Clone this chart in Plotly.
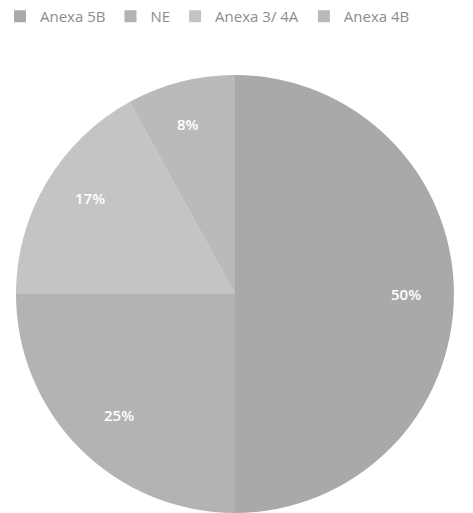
import math
import plotly.graph_objects as go

labels = ["Anexa 5B", "NE", "Anexa 3/ 4A", "Anexa 4B"]
values = [50, 25, 17, 8]
colors = ["#a9a9a9", "#b3b3b3", "#c4c4c4", "#bababa"]

W, H = 473, 513
dom_x = [16 / W, 454 / W]
dom_y = [0, 438 / H]

fig = go.Figure(go.Pie(
    labels=labels,
    values=values,
    sort=False,
    direction="clockwise",
    rotation=0,
    marker=dict(colors=colors, line=dict(width=0)),
    textinfo="none",
    domain=dict(x=dom_x, y=dom_y),
    hoverinfo="skip",
))

# percentage labels placed near the rim (best-fit style), derived from values
total = sum(values)
cx = (dom_x[0] + dom_x[1]) / 2 * W
cy = (dom_y[0] + dom_y[1]) / 2 * H
R = min((dom_x[1] - dom_x[0]) * W, (dom_y[1] - dom_y[0]) * H) / 2
cum = 0
for v in values:
    mid = (cum + v / 2) / total * 2 * math.pi
    cum += v
    r = 0.86 * R
    px = cx + r * math.sin(mid)
    py = cy + r * math.cos(mid)
    fig.add_annotation(
        x=px / W, y=py / H, xref="paper", yref="paper",
        text=f"{round(100 * v / total)}%", showarrow=False,
        font=dict(family="Open Sans", size=15, color="white", weight=600),
    )

fig.update_layout(
    width=W, height=H,
    margin=dict(l=0, r=0, t=0, b=0),
    paper_bgcolor="white",
    showlegend=True,
    legend=dict(
        orientation="h", x=0.0, y=1.0, xanchor="left", yanchor="top",
        font=dict(family="Open Sans", size=15, color="#8c8c8c"),
        itemwidth=30, tracegroupgap=0,
    ),
)

fig.write_html("out.html")
